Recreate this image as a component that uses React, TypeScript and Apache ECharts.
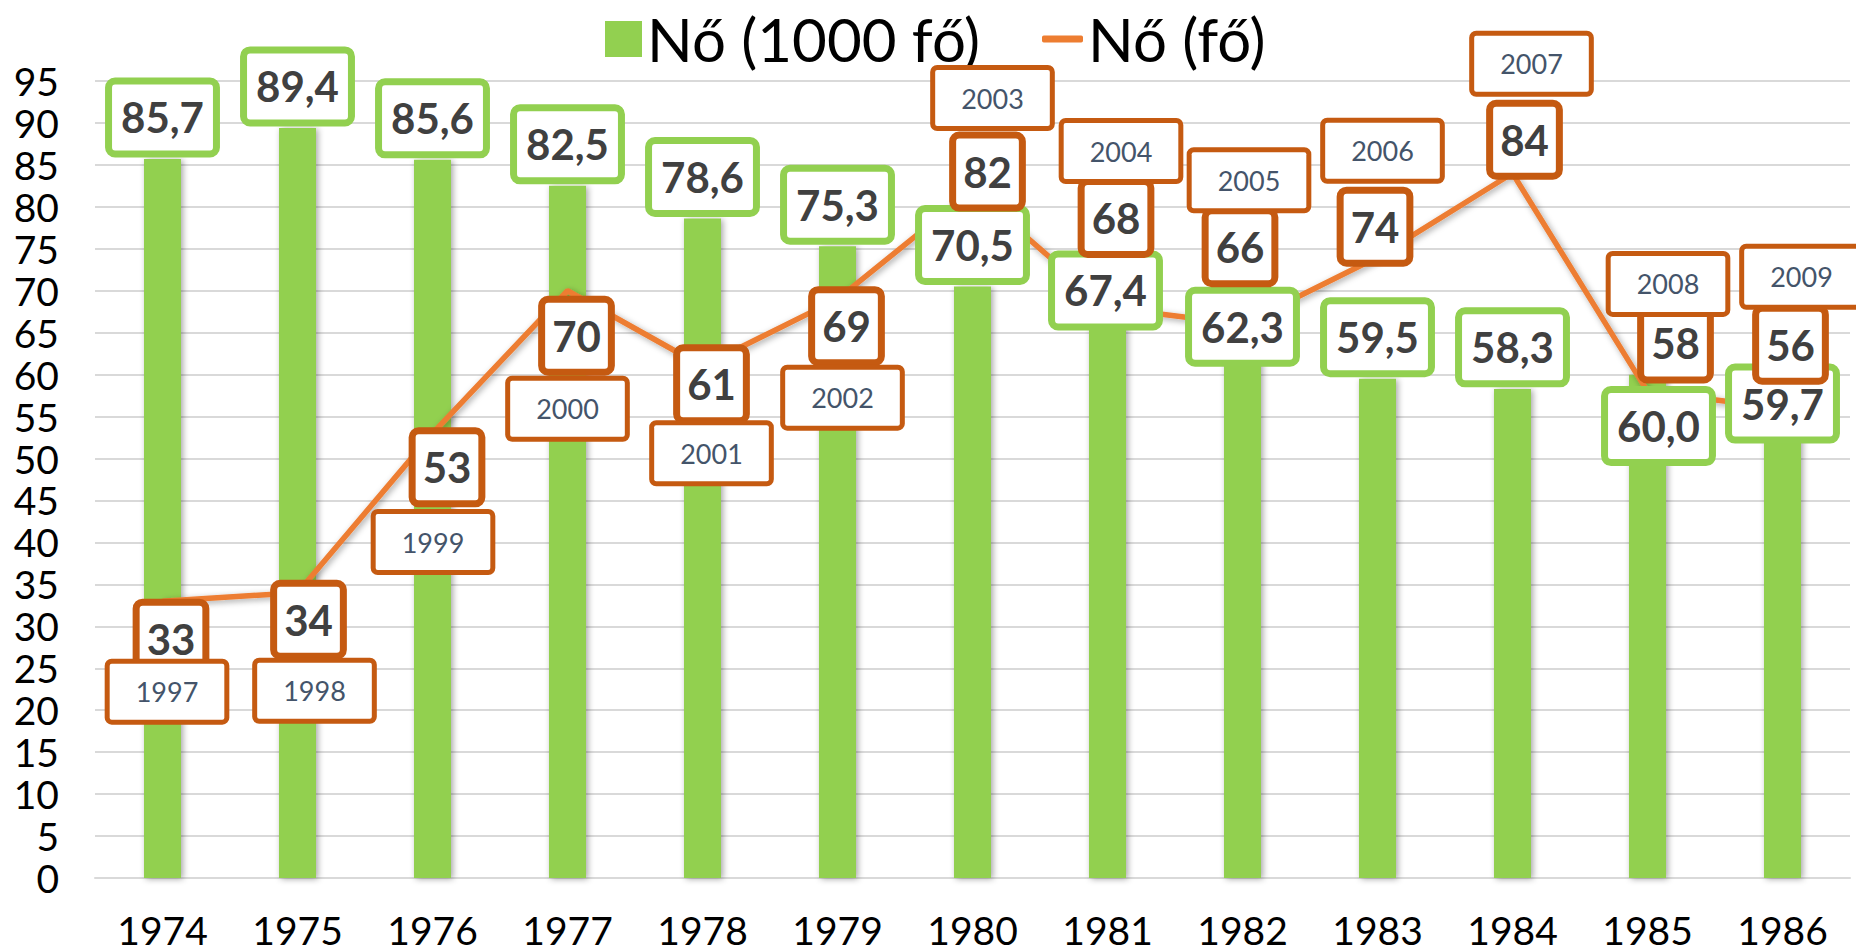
import React, { useEffect, useRef } from "react";
import * as echarts from "echarts";

const categories = ["1974", "1975", "1976", "1977", "1978", "1979", "1980", "1981", "1982", "1983", "1984", "1985", "1986"];
const barValues = [85.7, 89.4, 85.6, 82.5, 78.6, 75.3, 70.5, 67.4, 62.3, 59.5, 58.3, 60.0, 59.7];
const lineValues = [33, 34, 53, 70, 61, 69, 82, 68, 66, 74, 84, 58, 56];
const lineYears = ["1997", "1998", "1999", "2000", "2001", "2002", "2003", "2004", "2005", "2006", "2007", "2008", "2009"];
const barName = "Nő (1000 fő)";
const lineName = "Nő (fő)";

// label placement (pixel offsets, as manually moved in the original)
const barLabelOffsets = [
  [0, 0], [0, 0], [0, 0], [0, 0], [0, 0], [0, 0], [0, 0],
  [-2, 19.5], [0, 13], [0, 0], [0, 0], [11, 93], [0, 68],
];
const valueLabelOffsets = [
  [8.5, 37.5], [11, 27], [14.5, 34], [9, 45], [9, 18], [9, 27], [15, -18.5],
  [8.5, -89.5], [-2.5, -77], [-2.5, -30.5], [12, -33.5], [28, -48], [8, -63.5],
];
const yearLabelOffsets = [
  [4.5, 90.5], [17, 98], [0.5, 108.7], [0, 118], [9, 87], [5, 98.5], [20, -92],
  [13.5, -156.5], [6.5, -144], [5, -106.5], [19, -109.5], [20.5, -107.5], [19, -131.5],
];

const FONT = "Lato";

function labelCarrier(name: string, values: number[], offsets: number[][], z: number, label: any) {
  return {
    type: "scatter",
    name,
    z,
    silent: true,
    symbolSize: 0.1,
    itemStyle: { color: "rgba(0,0,0,0)", opacity: 1 },
    data: values.map((v, i) => ({ value: v, label: { offset: offsets[i] } })),
    label: { show: true, opacity: 1, ...label },
  };
}

export default function App() {
  const ref = useRef<HTMLDivElement>(null);
  useEffect(() => {
    if (!ref.current) return;
    const chart = echarts.init(ref.current, null, { renderer: "svg" });
    const legendText = { fontFamily: FONT, fontSize: 60, color: "#000", lineHeight: 66 };
    const boldLabel = {
      fontFamily: FONT,
      fontWeight: "bold",
      fontSize: 42,
      lineHeight: 46,
      color: "#404040",
      backgroundColor: "#fff",
      borderWidth: 7,
      borderRadius: 3,
    };
    chart.setOption({
      animation: false,
      backgroundColor: "#fff",
      legend: [
        {
          data: [{ name: barName, icon: "rect" }],
          left: 605,
          top: 6,
          padding: 0,
          itemWidth: 37,
          itemHeight: 36,
          selectedMode: false,
          textStyle: legendText,
        },
        {
          data: [{ name: lineName, icon: "roundRect" }],
          left: 1042,
          top: 6,
          padding: 0,
          itemWidth: 41,
          itemHeight: 7,
          selectedMode: false,
          textStyle: legendText,
        },
      ],
      grid: { left: 95, right: 6, top: 81, bottom: 73, containLabel: false },
      xAxis: {
        type: "category",
        data: categories,
        axisTick: { show: false },
        axisLine: { lineStyle: { color: "#D9D9D9", width: 2 } },
        axisLabel: { fontFamily: FONT, fontSize: 39, lineHeight: 39, color: "#000", margin: 32 },
      },
      yAxis: {
        type: "value",
        min: 0,
        max: 95,
        interval: 5,
        axisLine: { show: false },
        axisTick: { show: false },
        splitLine: { lineStyle: { color: "#D9D9D9", width: 2 } },
        axisLabel: { fontFamily: FONT, fontSize: 39, color: "#000", margin: 36 },
      },
      series: [
        {
          type: "bar",
          name: barName,
          z: 1,
          barWidth: 37,
          data: barValues,
          itemStyle: {
            color: "#92D050",
            shadowBlur: 6,
            shadowColor: "rgba(0,0,0,0.35)",
            shadowOffsetX: 2,
            shadowOffsetY: 1,
          },
        },
        {
          type: "line",
          name: lineName,
          z: 2,
          symbol: "none",
          data: lineValues,
          itemStyle: { color: "#ED7D31" },
          lineStyle: {
            color: "#ED7D31",
            width: 5.5,
            shadowBlur: 6,
            shadowColor: "rgba(0,0,0,0.35)",
            shadowOffsetX: 2,
            shadowOffsetY: 2,
          },
        },
        labelCarrier("barLabels", barValues, barLabelOffsets, 3, {
          ...boldLabel,
          position: "top",
          distance: 8.5,
          formatter: (p: any) => Number(p.value).toFixed(1).replace(".", ","),
          borderColor: "#92D050",
          padding: [10, 9],
        }),
        labelCarrier("lineLabels", lineValues, valueLabelOffsets, 4, {
          ...boldLabel,
          position: "inside",
          formatter: (p: any) => String(p.value),
          borderColor: "#C55A11",
          padding: [10, 7],
        }),
        labelCarrier("yearLabels", lineValues, yearLabelOffsets, 5, {
          position: "inside",
          formatter: (p: any) => lineYears[p.dataIndex],
          fontFamily: FONT,
          fontSize: 27,
          lineHeight: 30,
          color: "#44546A",
          backgroundColor: "#fff",
          borderColor: "#C55A11",
          borderWidth: 5,
          borderRadius: 2,
          padding: [13, 26],
        }),
      ],
    });
    return () => chart.dispose();
  }, []);
  return (
    <div
      ref={ref}
      style={{ position: "fixed", left: 0, top: 0, width: 1856, height: 951, background: "#fff" }}
    />
  );
}
